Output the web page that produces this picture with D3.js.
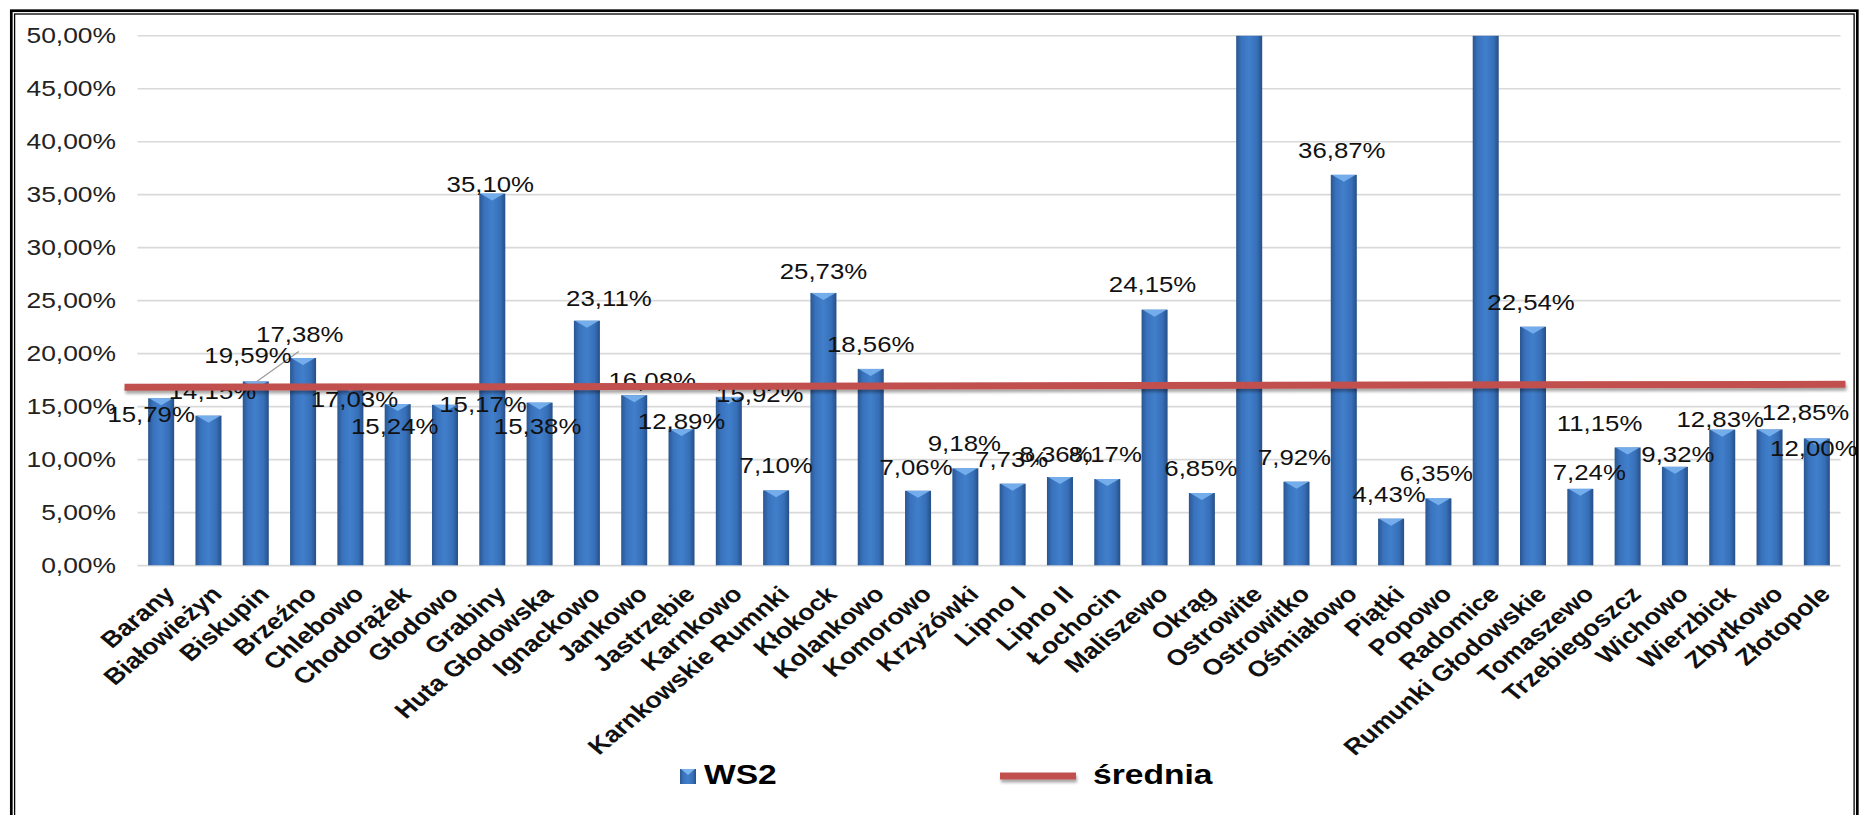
<!DOCTYPE html>
<html>
<head>
<meta charset="utf-8">
<script src="https://cdn.jsdelivr.net/npm/d3@7/dist/d3.min.js"></script>
<style>
body { margin: 0; background: #fff; }
svg text { font-family: "Liberation Sans", Arial, sans-serif; }
</style>
</head>
<body>
<svg id="chart" width="1861" height="815"></svg>
<script>
var categories = ["Barany", "Białowieżyn", "Biskupin", "Brzeźno", "Chlebowo", "Chodorążek",
    "Głodowo", "Grabiny", "Huta Głodowska", "Ignackowo", "Jankowo", "Jastrzębie", "Karnkowo",
    "Karnkowskie Rumnki", "Kłokock", "Kolankowo", "Komorowo", "Krzyżówki", "Lipno I", "Lipno II",
    "Łochocin", "Maliszewo", "Okrąg", "Ostrowite", "Ostrowitko", "Ośmiałowo", "Piątki", "Popowo",
    "Radomice", "Rumunki Głodowskie", "Tomaszewo", "Trzebiegoszcz", "Wichowo", "Wierzbick",
    "Zbytkowo", "Złotopole"];

// WS2 in percent; Ostrowite and Radomice run past the 50% top of the axis
var ws2 = [15.79, 14.15, 17.38, 19.59, 17.03, 15.24, 15.17, 35.10, 15.38, 23.11, 16.08, 12.89,
    15.92, 7.10, 25.73, 18.56, 7.06, 9.18, 7.73, 8.36, 8.17, 24.15, 6.85, 58.00, 7.92, 36.87,
    4.43, 6.35, 58.00, 22.54, 7.24, 11.15, 9.32, 12.83, 12.85, 12.00];

// średnia, value at the left and right end of the line
var srednia = [16.82, 17.11];

var yTicks = [0, 5, 10, 15, 20, 25, 30, 35, 40, 45, 50];
var seriesNames = ["WS2", "średnia"];

// hand moved data labels, px from the usual spot above the bar
var labelNudge = [[-8, 41], [6, 0], [46, -22], [-53, 22], [6, 39], [-1, 47], [40, 24], [0, 15],
    [0, 48], [24, 2], [20, 10], [2, 17], [33, 22], [2, 0], [2, 3], [2, 0], [0, 1], [1, 0],
    [1, 0], [-2, 2], [0, 0], [0, -1], [1, 0], [0, 0], [0, 0], [0, 0], [0, 0], [0, 0], [0, 0],
    [0, 0], [11, 8], [-26, 1], [5, 12], [0, 14], [38, 8], [-1, 35]];
var leaders = ["Biskupin"];

var pl = d3.formatLocale({decimal: ",", thousands: " ", grouping: [3], currency: ["", " zł"]});
var fmt2 = pl.format(".2f");
var pct = function(v) { return fmt2(v) + "%"; };

var plot = {left: 137.5, right: 1840.5, top: 35.7, bottom: 565.6};
var stretch = 1.2;   // the picture is widened, text with it
var red = "#c0504d";

var svg = d3.select("#chart");
svg.append("rect").attr("width", 1861).attr("height", 815).attr("fill", "#fff");

var defs = svg.append("defs");
var grad = defs.append("linearGradient").attr("id", "barGrad")
    .attr("x1", 0).attr("x2", 1).attr("y1", 0).attr("y2", 0);
[[0, "#2a5690"], [0.2, "#3972bd"], [0.5, "#417fcb"], [0.8, "#376fb8"], [1, "#264f86"]]
    .forEach(function(s) {
        grad.append("stop").attr("offset", s[0]).attr("stop-color", s[1]);
    });
var shadow = defs.append("filter").attr("id", "shadow")
    .attr("filterUnits", "userSpaceOnUse")
    .attr("x", 0).attr("y", 0).attr("width", 1861).attr("height", 815);
shadow.append("feGaussianBlur").attr("in", "SourceAlpha").attr("stdDeviation", 1.5);
shadow.append("feOffset").attr("dx", 1).attr("dy", 3).attr("result", "off");
shadow.append("feComponentTransfer").append("feFuncA").attr("type", "linear").attr("slope", 0.35);
var merge = shadow.append("feMerge");
merge.append("feMergeNode");
merge.append("feMergeNode").attr("in", "SourceGraphic");
defs.append("clipPath").attr("id", "plotClip")
    .append("rect")
        .attr("x", plot.left).attr("y", plot.top)
        .attr("width", plot.right - plot.left).attr("height", plot.bottom - plot.top);

var x = d3.scaleBand().domain(categories).range([plot.left, plot.right])
    .paddingInner(0.45).paddingOuter(0.225);
var y = d3.scaleLinear().domain([0, 50]).range([plot.bottom, plot.top]);
var bw = x.bandwidth();
var cx = function(c) { return x(c) + bw / 2; };
var idx = function(c) { return categories.indexOf(c); };

var stretched = function(sel, px, py, extra) {
    sel.attr("transform", function(d, i) {
        return "translate(" + px(d, i) + "," + py(d, i) + ") scale(" + stretch + ",1)" + (extra || "");
    });
};

// gridlines and y labels
svg.append("g").selectAll("line").data(yTicks).enter()
    .append("line")
        .attr("x1", plot.left).attr("x2", plot.right)
        .attr("y1", y).attr("y2", y)
        .attr("stroke", "#d9d9d9").attr("stroke-width", 1.6);

svg.append("g").selectAll("text").data(yTicks).enter()
    .append("text")
        .attr("text-anchor", "end")
        .attr("font-size", 22).attr("fill", "#222")
        .text(function(t) { return pct(t); })
        .call(stretched, function() { return 116; }, function(t) { return y(t) + 7.5; });

// bars
var bars = svg.append("g").attr("clip-path", "url(#plotClip)");
bars.selectAll("rect").data(categories).enter()
    .append("rect")
        .attr("x", function(c) { return x(c); })
        .attr("y", function(c, i) { return y(ws2[i]); })
        .attr("width", bw)
        .attr("height", function(c, i) { return y(0) - y(ws2[i]); })
        .attr("fill", "url(#barGrad)");

bars.selectAll("path.cap").data(categories.filter(function(c, i) { return ws2[i] <= 50; })).enter()
    .append("path").attr("class", "cap")
        .attr("d", function(c) {
            var t = y(ws2[idx(c)]), x0 = x(c) + 1;
            return "M" + x0 + "," + t + "L" + (x0 + bw - 2) + "," + t + "L" + cx(c) + "," + (t + 7) + "Z";
        })
        .attr("fill", "#7ab3ee").attr("opacity", 0.9);

// data labels
var labelX = function(c) { return cx(c) - 2 + labelNudge[idx(c)][0]; };
var labelY = function(c) { return y(ws2[idx(c)]) - 17 + labelNudge[idx(c)][1]; };

svg.append("g").selectAll("line").data(leaders).enter()
    .append("line")
        .attr("x1", function(c) { return cx(c) + 1; })
        .attr("y1", function(c) { return y(ws2[idx(c)]); })
        .attr("x2", function(c) { return labelX(c) - 1; })
        .attr("y2", function(c) { return labelY(c) + 9; })
        .attr("stroke", "#9a9a9a").attr("stroke-width", 1.2);

svg.append("g").selectAll("text")
    .data(categories.filter(function(c, i) { return ws2[i] <= 50; })).enter()
    .append("text")
        .attr("text-anchor", "middle")
        .attr("font-size", 21.5).attr("fill", "#111")
        .text(function(c) { return pct(ws2[idx(c)]); })
        .call(stretched, labelX, labelY);

// average line, on top of bars and labels
var lineOver = [13, 5];
svg.append("line")
    .attr("x1", plot.left - lineOver[0]).attr("x2", plot.right + lineOver[1])
    .attr("y1", y(srednia[0])).attr("y2", y(srednia[1]))
    .attr("stroke", red).attr("stroke-width", 7)
    .attr("filter", "url(#shadow)");

// category labels
svg.append("g").selectAll("text").data(categories).enter()
    .append("text")
        .attr("text-anchor", "end")
        .attr("font-size", 22.4).attr("font-weight", "bold").attr("fill", "#111")
        .text(function(c) { return c; })
        .call(stretched, function(c) { return cx(c) + 15; }, function() { return plot.bottom + 30; }, " rotate(-45)");

// legend
var leg = svg.append("g");
leg.append("rect").attr("x", 680).attr("y", 769).attr("width", 16).attr("height", 15)
    .attr("fill", "url(#barGrad)");
leg.append("path").attr("d", "M681,769L695,769L688,775Z").attr("fill", "#7ab3ee");
leg.append("text").attr("font-size", 28).attr("font-weight", "bold").attr("fill", "#000")
    .text(seriesNames[0])
    .call(stretched, function() { return 704; }, function() { return 784; });
leg.append("line").attr("x1", 1000).attr("x2", 1076).attr("y1", 776).attr("y2", 776)
    .attr("stroke", red).attr("stroke-width", 7).attr("filter", "url(#shadow)");
leg.append("text").attr("font-size", 28).attr("font-weight", "bold").attr("fill", "#000")
    .text(seriesNames[1])
    .call(stretched, function() { return 1093; }, function() { return 784; });

// double frame
svg.append("rect").attr("x", 11.3).attr("y", 10.7).attr("width", 1846).attr("height", 830)
    .attr("fill", "none").attr("stroke", "#000").attr("stroke-width", 2.7);
svg.append("rect").attr("x", 14.6).attr("y", 14).attr("width", 1839.5).attr("height", 830)
    .attr("fill", "none").attr("stroke", "#000").attr("stroke-width", 1.3);
</script>
</body>
</html>
